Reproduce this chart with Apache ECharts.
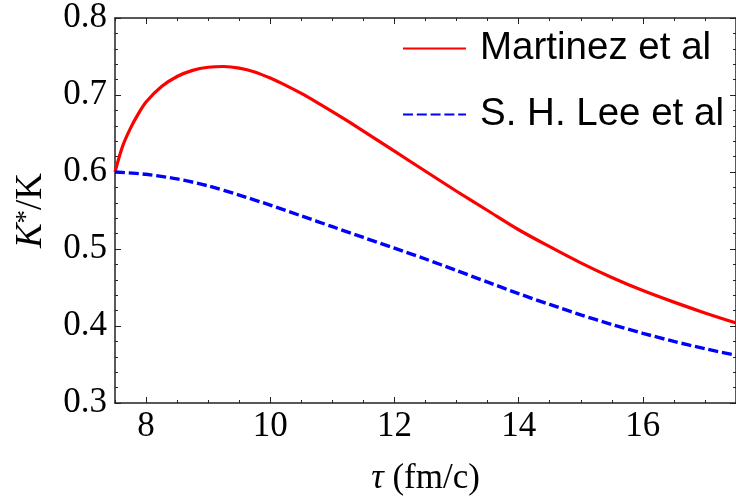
<!DOCTYPE html>
<html>
<head>
<meta charset="utf-8">
<script src="https://cdn.jsdelivr.net/npm/echarts@6/dist/echarts.min.js"></script>
<style>
  html, body { margin: 0; padding: 0; background: #ffffff; }
  #chart { width: 736px; height: 497px; }
</style>
</head>
<body>
<div id="chart"></div>
<script>
// K*/K ratio versus proper time tau (fm/c), two model calculations
const tauMartinez = [7.5, 7.625, 7.75, 7.875, 8.0, 8.25, 8.5, 8.75, 9.0, 9.25, 9.5, 9.75, 10.0, 10.25, 10.5, 10.75, 11.0, 11.25, 11.5, 11.75, 12.0, 12.5, 13.0, 13.5, 14.0, 14.5, 15.0, 15.5, 16.0, 16.5, 17.0, 17.5];
const ratioMartinez = [0.600, 0.634, 0.657, 0.6755, 0.691, 0.711, 0.724, 0.732, 0.736, 0.737, 0.735, 0.730, 0.722, 0.7125, 0.702, 0.6905, 0.6785, 0.666, 0.653, 0.640, 0.627, 0.601, 0.575, 0.550, 0.525, 0.503, 0.482, 0.463, 0.446, 0.431, 0.417, 0.404];

const tauLee = [7.5, 8.0, 8.5, 9.0, 9.5, 10.0, 10.5, 11.0, 11.5, 12.0, 12.5, 13.0, 13.5, 14.0, 14.5, 15.0, 15.5, 16.0, 16.5, 17.0, 17.5];
const ratioLee = [0.600, 0.597, 0.591, 0.582, 0.570, 0.557, 0.543, 0.529, 0.515, 0.501, 0.487, 0.472, 0.457, 0.442, 0.428, 0.4145, 0.402, 0.3905, 0.380, 0.3705, 0.362];

const seriesNames = ['Martinez et al', 'S. H. Lee et al'];
const xMajorTicks = [8, 10, 12, 14, 16];

const frameColor = '#222222';
const serif = 'Liberation Serif';

function pairs(xs, ys) {
  return xs.map((x, i) => [x, ys[i]]);
}

// bottom/top: one axis carries the line + minor ticks, a second one the longer major ticks
function xAxisPair(position, withLabels) {
  const base = {
    type: 'value', position: position, min: 7.5, max: 17.5,
    splitLine: { show: false }
  };
  return [
    Object.assign({}, base, {
      interval: 0.5,
      axisLine: { show: true, onZero: false, lineStyle: { color: frameColor, width: 1.5 } },
      axisTick: { show: true, inside: true, length: 3, lineStyle: { color: frameColor, width: 1 } },
      axisLabel: withLabels ? {
        show: true, margin: 6, color: '#000', fontFamily: serif, fontSize: 35,
        formatter: v => (Math.abs(v % 2) < 1e-9 ? String(v) : '')
      } : { show: false }
    }),
    Object.assign({}, base, {
      interval: 0.5,
      axisLine: { show: false },
      axisTick: { show: true, inside: true, length: 6, customValues: xMajorTicks,
                  lineStyle: { color: frameColor, width: 1 } },
      axisLabel: { show: false }
    })
  ];
}

function yAxis(position, withLabels) {
  return {
    type: 'value', position: position, min: 0.3, max: 0.8, interval: 0.1,
    splitLine: { show: false },
    axisLine: { show: true, onZero: false, lineStyle: { color: frameColor, width: 1.5 } },
    axisTick: { show: true, inside: true, length: 6, lineStyle: { color: frameColor, width: 1 } },
    minorTick: { show: true, splitNumber: 5, length: 3, lineStyle: { color: frameColor, width: 1 } },
    axisLabel: withLabels ? {
      show: true, margin: 8, color: '#000', fontFamily: serif, fontSize: 35,
      formatter: v => v.toFixed(1)
    } : { show: false }
  };
}

const xAxes = xAxisPair('bottom', true).concat(xAxisPair('top', false));
xAxes[0].name = '{i|τ} (fm/c)';
xAxes[0].nameLocation = 'middle';
xAxes[0].nameGap = 58;
xAxes[0].nameTextStyle = {
  color: '#000', fontFamily: serif, fontSize: 35,
  rich: { i: { fontFamily: serif, fontSize: 35, fontStyle: 'italic', color: '#000' } }
};

const yLeft = yAxis('left', true);
yLeft.name = '{i|K}{sup|*}/K';
yLeft.nameLocation = 'middle';
yLeft.nameGap = 65;
yLeft.nameTextStyle = {
  color: '#000', fontFamily: serif, fontSize: 37,
  rich: {
    i: { fontFamily: serif, fontSize: 37, fontStyle: 'italic', color: '#000' },
    sup: { fontFamily: serif, fontSize: 27, color: '#000', verticalAlign: 'top', lineHeight: 37 }
  }
};

const chart = echarts.init(document.getElementById('chart'), null, { renderer: 'canvas' });
chart.setOption({
  animation: false,
  backgroundColor: '#ffffff',
  grid: { left: 115, right: 0, top: 18, bottom: 94, containLabel: false, outerBoundsMode: 'none' },
  legend: {
    orient: 'vertical', left: 397, top: 23,
    itemWidth: 63, itemHeight: 2, itemGap: 25,
    data: seriesNames,
    textStyle: { color: '#000', fontFamily: 'Liberation Sans', fontSize: 38.5, lineHeight: 41,
                 padding: [0, 0, 0, 9] }
  },
  xAxis: xAxes,
  yAxis: [yLeft, yAxis('right', false)],
  series: [
    {
      name: seriesNames[0], type: 'line', xAxisIndex: 0, yAxisIndex: 0,
      data: pairs(tauMartinez, ratioMartinez),
      smooth: 0.3, symbol: 'none',
      lineStyle: { color: '#ff0000', width: 3.2 },
      itemStyle: { color: '#ff0000' }
    },
    {
      name: seriesNames[1], type: 'line', xAxisIndex: 0, yAxisIndex: 0,
      data: pairs(tauLee, ratioLee),
      smooth: 0.3, symbol: 'none',
      lineStyle: { color: '#0000ff', width: 3.4, type: [10, 3.8] },
      itemStyle: { color: '#0000ff' }
    }
  ]
});
</script>
</body>
</html>
